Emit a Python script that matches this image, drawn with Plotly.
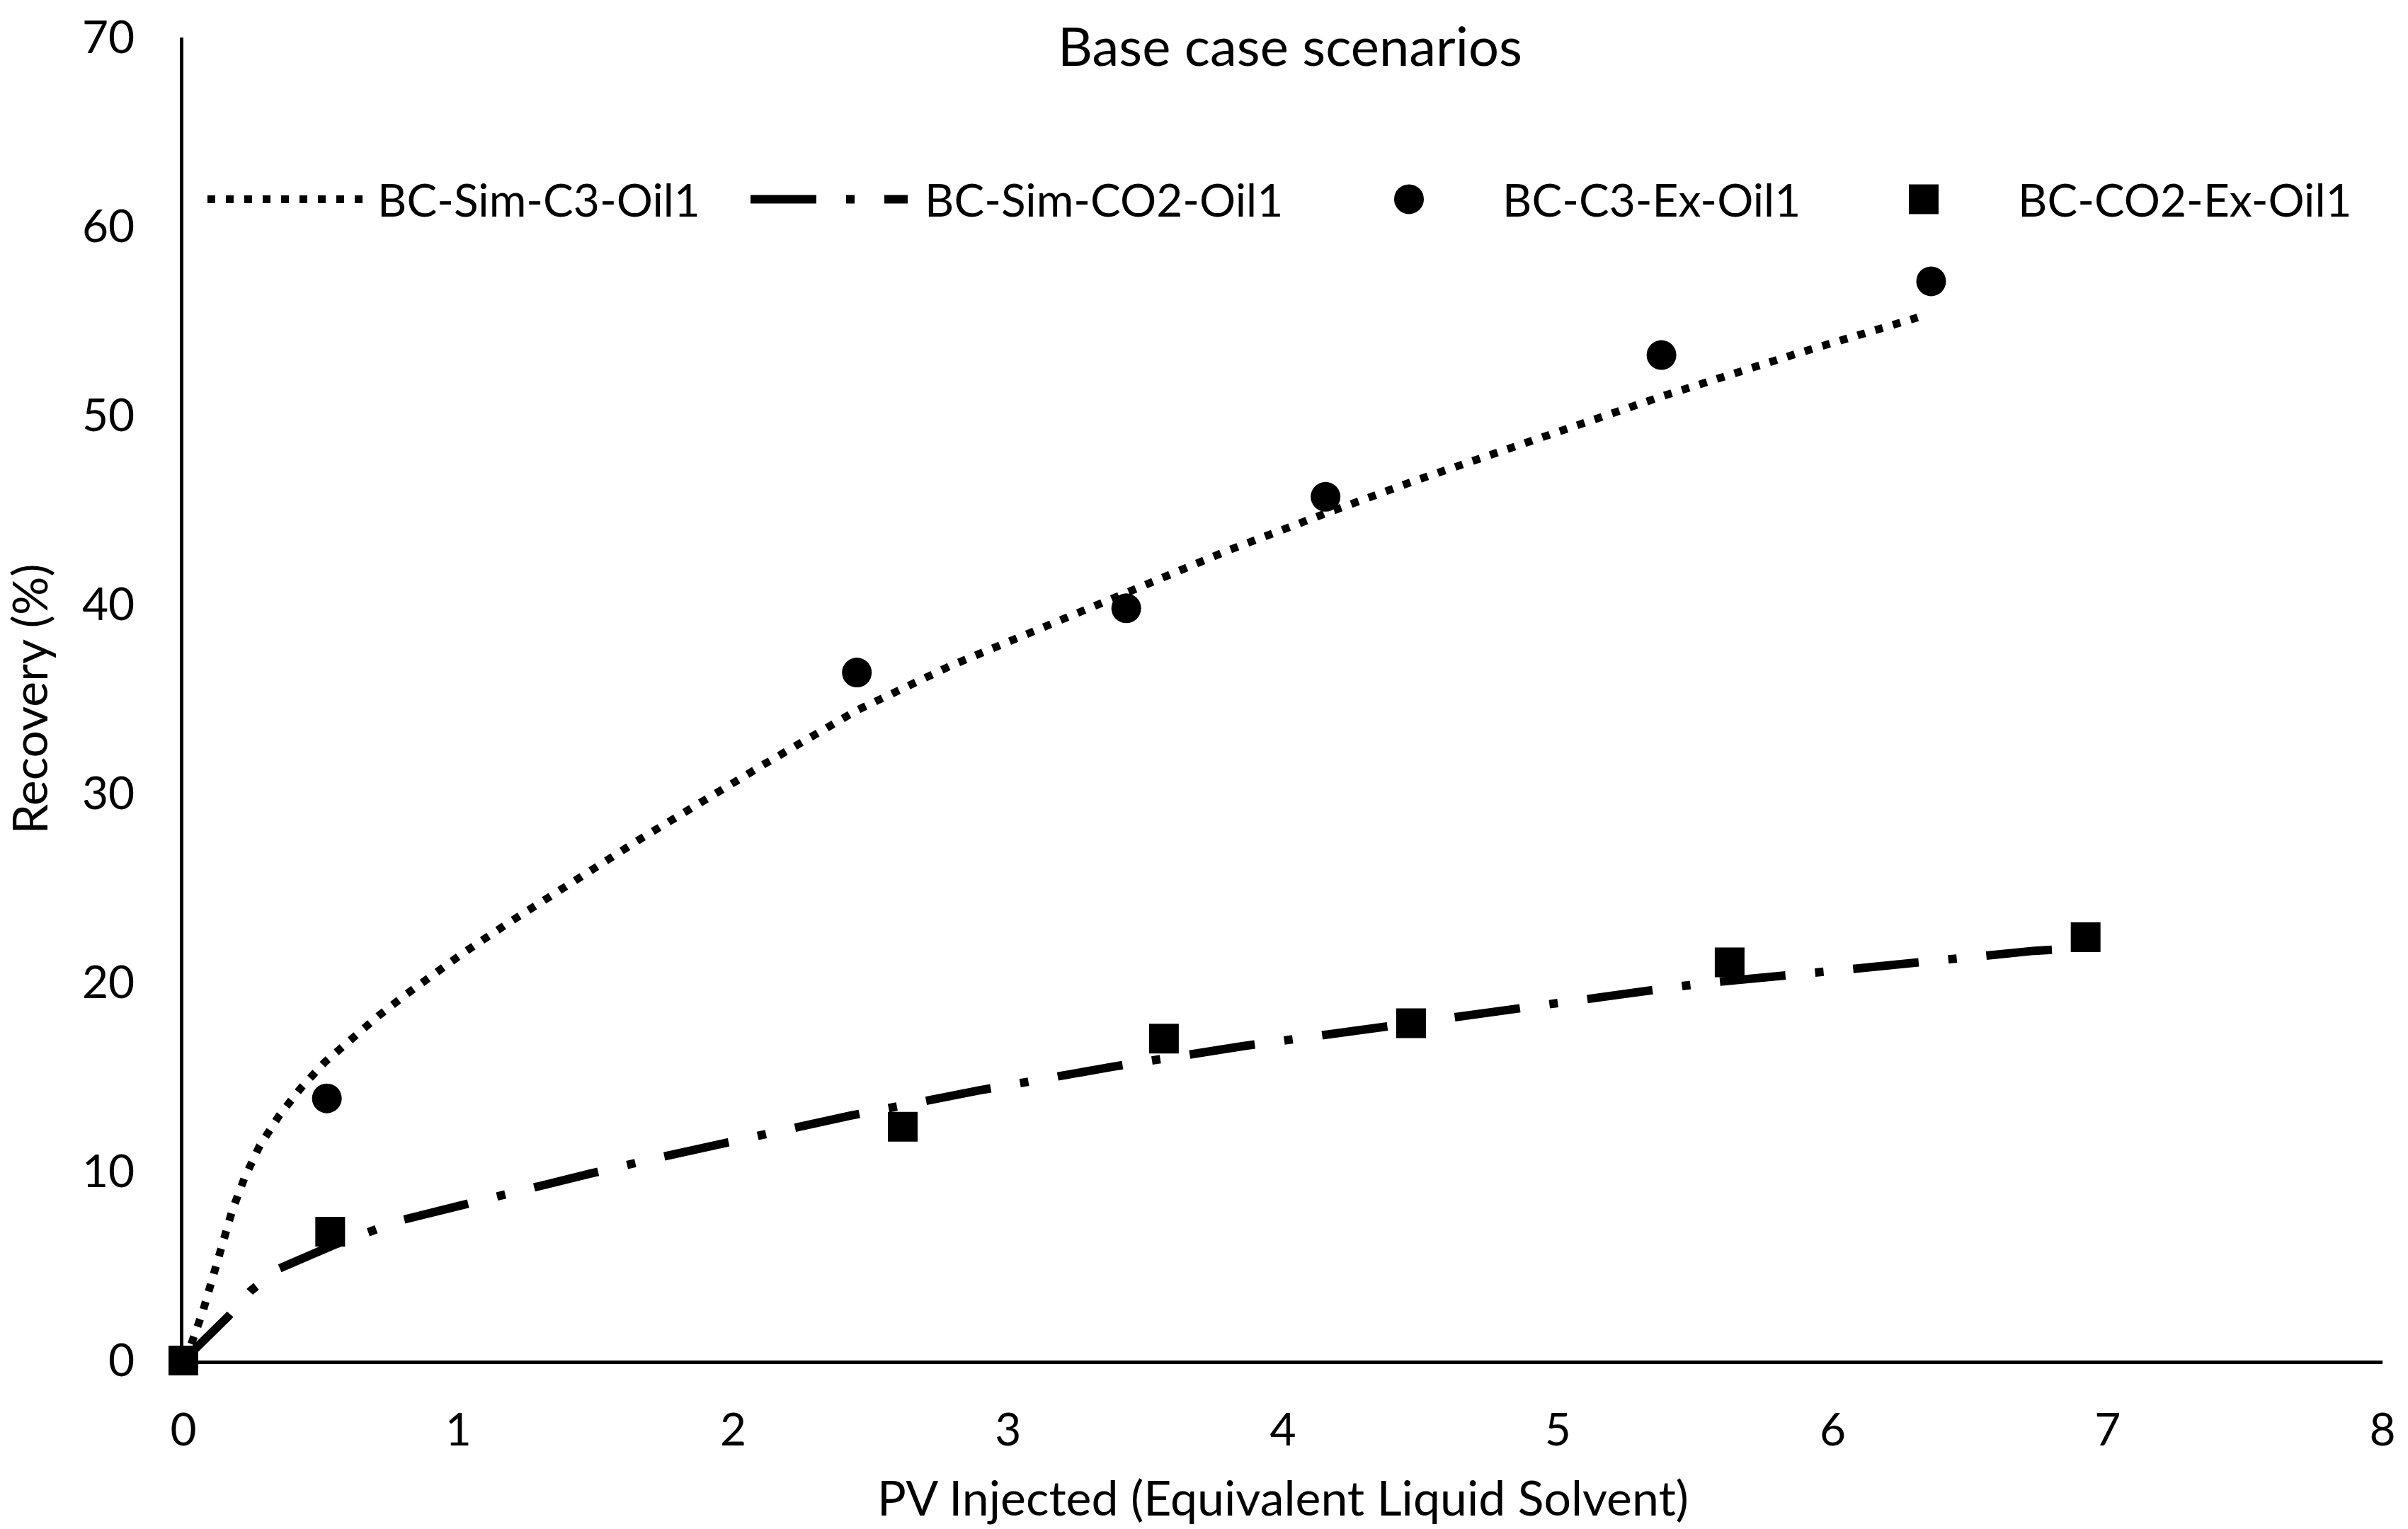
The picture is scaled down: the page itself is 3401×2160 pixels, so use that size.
import plotly.graph_objects as go

# ---------------- data ----------------
sim_c3_x = [0, 0.029, 0.07, 0.106, 0.141, 0.178, 0.223, 0.278, 0.349, 0.427, 0.514,
            0.61, 0.71, 0.812, 0.915, 1.02, 1.178, 1.672, 2.115, 2.45, 2.79, 3.207,
            3.385, 3.807, 4.17, 4.48, 5.382, 5.875, 6.309]
sim_c3_y = [0, 0.88, 2.56, 4.36, 6.15, 7.95, 9.69, 11.37, 12.97, 14.41, 15.78,
            17.05, 18.24, 19.39, 20.49, 21.58, 23.11, 27.68, 31.57, 34.4, 36.75, 39.3,
            40.35, 42.9, 44.9, 46.55, 51.03, 53.3, 55.19]

sim_co2_x = [0, 0.165, 0.245, 0.344, 0.545, 0.668, 0.786, 1.007, 1.252, 1.478, 1.723,
             1.958, 2.428, 2.898, 3.382, 3.852, 4.334, 5.275, 5.532, 6.011, 6.255,
             6.493, 6.734, 6.88]
sim_co2_y = [0, 2.36, 3.69, 4.84, 6.1, 6.82, 7.40, 8.20, 9.12, 9.88, 10.72,
             11.46, 12.96, 14.3, 15.55, 16.63, 17.62, 19.46, 19.97, 20.63, 21.02,
             21.37, 21.68, 21.8]

ex_c3_x = [0, 0.522, 2.45, 3.43, 4.155, 5.377, 6.358]
ex_c3_y = [0, 13.87, 36.4, 39.8, 45.7, 53.2, 57.1]

ex_co2_x = [0, 0.534, 2.617, 3.567, 4.466, 5.625, 6.92]
ex_co2_y = [0, 6.82, 12.37, 17.03, 17.85, 21.07, 22.4]

series_names = ["BC-Sim-C3-Oil1", "BC-Sim-CO2-Oil1", "BC-C3-Ex-Oil1", "BC-CO2-Ex-Oil1"]
x_ticks = [0, 1, 2, 3, 4, 5, 6, 7, 8]
y_ticks = [0, 10, 20, 30, 40, 50, 60, 70]

# ---------------- layout geometry ----------------
W, H = 3401, 2160
ML, MR, MT, MB = 259, 36, 48, 238
PW, PH = W - ML - MR, H - MT - MB
FONT = "Lato"
FS = 64
FS_AXT = 68

DOT = "11px,15px"
DASHDOT = "93px,42px,12px,42px"


def px_x(x):
    return (x - ML) / PW


def px_y(y):
    return (H - MB - y) / PH


fig = go.Figure()
fig.add_trace(go.Scatter(x=sim_c3_x, y=sim_c3_y, mode="lines", name=series_names[0],
                         line=dict(color="black", width=11, dash=DOT), showlegend=False))
fig.add_trace(go.Scatter(x=sim_co2_x, y=sim_co2_y, mode="lines", name=series_names[1],
                         line=dict(color="black", width=12, dash=DASHDOT), showlegend=False))
fig.add_trace(go.Scatter(x=ex_c3_x, y=ex_c3_y, mode="markers", name=series_names[2],
                         marker=dict(symbol="circle", size=42, color="black", line=dict(width=0)),
                         cliponaxis=False, showlegend=False))
fig.add_trace(go.Scatter(x=ex_co2_x, y=ex_co2_y, mode="markers", name=series_names[3],
                         marker=dict(symbol="square", size=42, color="black", line=dict(width=0)),
                         cliponaxis=False, showlegend=False))

# ---------------- legend (drawn as shapes + text) ----------------
LEG_Y = 277
shapes = [
    dict(type="line", xref="paper", yref="paper", x0=px_x(293), x1=px_x(514),
         y0=px_y(LEG_Y), y1=px_y(LEG_Y), line=dict(color="black", width=11, dash=DOT)),
    dict(type="line", xref="paper", yref="paper", x0=px_x(1060), x1=px_x(1282),
         y0=px_y(LEG_Y), y1=px_y(LEG_Y), line=dict(color="black", width=12, dash=DASHDOT)),
    dict(type="circle", xref="paper", yref="paper", xsizemode="pixel", ysizemode="pixel",
         xanchor=px_x(1990), yanchor=px_y(LEG_Y), x0=-21, x1=21, y0=-21, y1=21,
         fillcolor="black", line=dict(width=0)),
    dict(type="rect", xref="paper", yref="paper", xsizemode="pixel", ysizemode="pixel",
         xanchor=px_x(2717), yanchor=px_y(LEG_Y), x0=-21, x1=21, y0=-21, y1=21,
         fillcolor="black", line=dict(width=0)),
]
legend_text_x = [531, 1304, 2120, 2848]
annotations = [
    dict(text=name, xref="paper", yref="paper", x=px_x(tx), y=px_y(LEG_Y),
         xanchor="left", yanchor="middle", showarrow=False,
         font=dict(family=FONT, size=FS, color="black"))
    for name, tx in zip(series_names, legend_text_x)
]

fig.update_layout(
    width=W, height=H, autosize=False,
    margin=dict(l=ML, r=MR, t=MT, b=MB, pad=0),
    paper_bgcolor="white", plot_bgcolor="white",
    font=dict(family=FONT, size=FS, color="black"),
    title=dict(text="Base case scenarios", x=px_x(1822), xref="paper", xanchor="center",
               y=1 - 66 / H, yanchor="middle", yref="container",
               font=dict(family=FONT, size=76, color="black")),
    shapes=shapes, annotations=annotations,
    showlegend=False,
    xaxis=dict(range=[0, 8], tickvals=x_ticks, ticktext=[str(v) for v in x_ticks],
               showgrid=False, zeroline=False, showline=True, linecolor="black",
               linewidth=5, ticks="", ticklabelstandoff=38, layer="below traces",
               title=dict(text="PV Injected (Equivalent Liquid Solvent)", standoff=40,
                          font=dict(family=FONT, size=FS_AXT, color="black")),
               tickfont=dict(family=FONT, size=FS, color="black")),
    yaxis=dict(range=[0, 70], tickvals=y_ticks, ticktext=[str(v) for v in y_ticks],
               showgrid=False, zeroline=False, showline=True, linecolor="black",
               linewidth=5, ticks="", ticklabelstandoff=51, layer="below traces",
               title=dict(text="Recovery (%)", standoff=44,
                          font=dict(family=FONT, size=FS_AXT, color="black")),
               tickfont=dict(family=FONT, size=FS, color="black")),
)

fig.write_html("out.html", config={"displayModeBar": False},
               post_script="document.body.style.margin='0';")
